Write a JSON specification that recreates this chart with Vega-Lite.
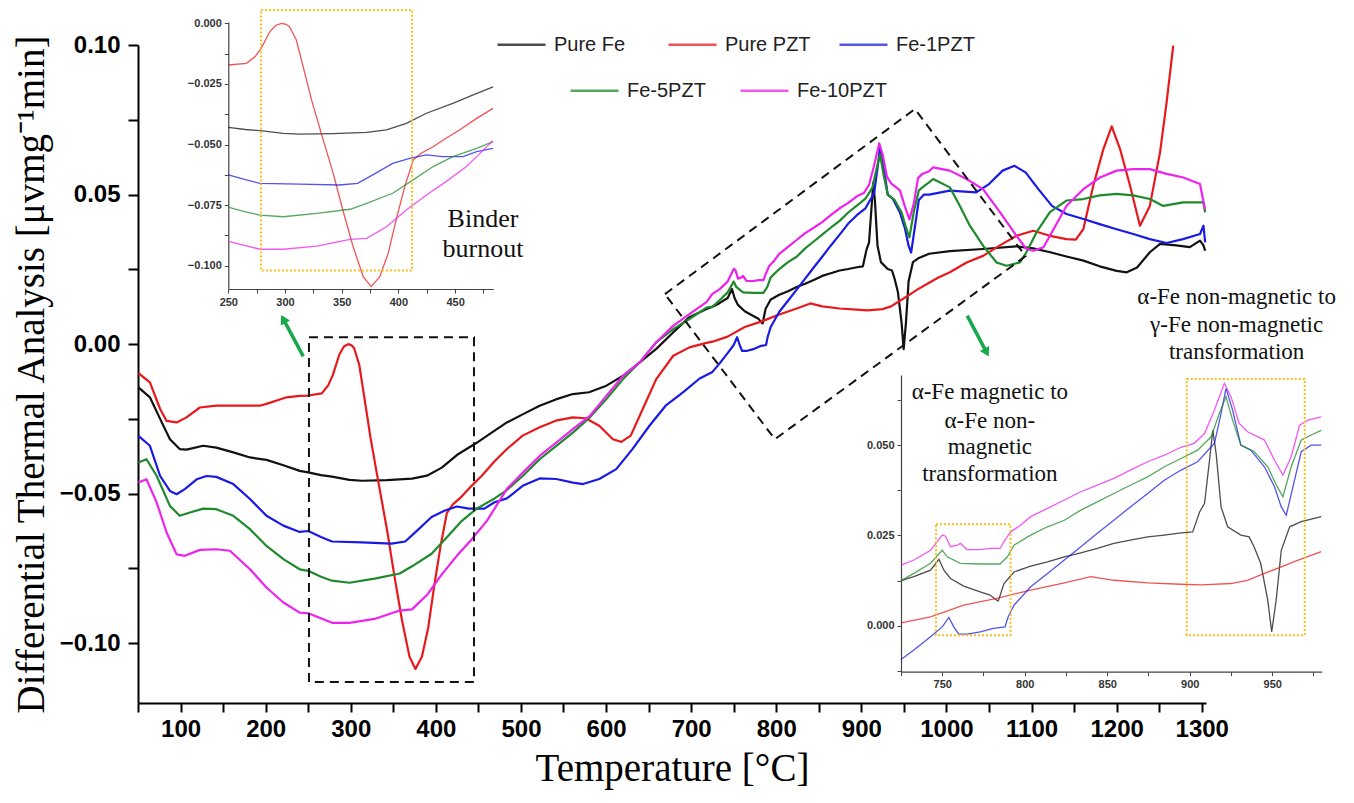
{
"$schema":"https://vega.github.io/schema/vega-lite/v6.json",
"width":1068,"height":658,
"autosize":"none",
"padding":{"left":138,"top":45,"right":148,"bottom":100},
"background":"white",
"config":{"view":{"stroke":null},"axis":{"grid":false,"domainColor":"#000","tickColor":"#000","labelColor":"#000","labelFont":"Liberation Sans","labelFlush":false,"labelOverlap":false},"font":"Liberation Sans"},
"datasets":{
"d":[
{"s":"Pure Fe","t":50.5,"v":-0.0145},{"s":"Pure Fe","t":64,"v":-0.0178},{"s":"Pure Fe","t":76,"v":-0.025},{"s":"Pure Fe","t":87.5,"v":-0.0318},{"s":"Pure Fe","t":99,"v":-0.0351},{"s":"Pure Fe","t":107,"v":-0.0353},{"s":"Pure Fe","t":126.6,"v":-0.034},{"s":"Pure Fe","t":142,"v":-0.0346},{"s":"Pure Fe","t":162,"v":-0.0362},{"s":"Pure Fe","t":181.6,"v":-0.0379},{"s":"Pure Fe","t":201,"v":-0.0387},{"s":"Pure Fe","t":220.8,"v":-0.0405},{"s":"Pure Fe","t":240,"v":-0.0424},{"s":"Pure Fe","t":250,"v":-0.0429},{"s":"Pure Fe","t":265,"v":-0.0438},{"s":"Pure Fe","t":278,"v":-0.0443},{"s":"Pure Fe","t":298.5,"v":-0.0454},{"s":"Pure Fe","t":313,"v":-0.0457},{"s":"Pure Fe","t":342.5,"v":-0.0455},{"s":"Pure Fe","t":372,"v":-0.045},{"s":"Pure Fe","t":389.5,"v":-0.044},{"s":"Pure Fe","t":407,"v":-0.0413},{"s":"Pure Fe","t":424.7,"v":-0.0371},{"s":"Pure Fe","t":448,"v":-0.033},{"s":"Pure Fe","t":466,"v":-0.0295},{"s":"Pure Fe","t":483.5,"v":-0.0262},{"s":"Pure Fe","t":502,"v":-0.0235},{"s":"Pure Fe","t":522,"v":-0.0206},{"s":"Pure Fe","t":541,"v":-0.0185},{"s":"Pure Fe","t":561,"v":-0.0167},{"s":"Pure Fe","t":580,"v":-0.0161},{"s":"Pure Fe","t":600.4,"v":-0.0139},{"s":"Pure Fe","t":620,"v":-0.0106},{"s":"Pure Fe","t":639.6,"v":-0.0061},{"s":"Pure Fe","t":659,"v":-0.0016},{"s":"Pure Fe","t":678.8,"v":0.0039},{"s":"Pure Fe","t":698,"v":0.009},{"s":"Pure Fe","t":718,"v":0.0117},{"s":"Pure Fe","t":725,"v":0.0125},{"s":"Pure Fe","t":732.8,"v":0.0136},{"s":"Pure Fe","t":742.9,"v":0.0154},{"s":"Pure Fe","t":748,"v":0.0184},{"s":"Pure Fe","t":751,"v":0.0154},{"s":"Pure Fe","t":755,"v":0.0131},{"s":"Pure Fe","t":763,"v":0.011},{"s":"Pure Fe","t":773,"v":0.0094},{"s":"Pure Fe","t":779,"v":0.0085},{"s":"Pure Fe","t":783,"v":0.0071},{"s":"Pure Fe","t":784,"v":0.0069},{"s":"Pure Fe","t":787.4,"v":0.0117},{"s":"Pure Fe","t":793.5,"v":0.0149},{"s":"Pure Fe","t":803.6,"v":0.0165},{"s":"Pure Fe","t":813.8,"v":0.0177},{"s":"Pure Fe","t":824,"v":0.0191},{"s":"Pure Fe","t":834,"v":0.0202},{"s":"Pure Fe","t":844,"v":0.0214},{"s":"Pure Fe","t":854,"v":0.0228},{"s":"Pure Fe","t":864,"v":0.0237},{"s":"Pure Fe","t":874.5,"v":0.0246},{"s":"Pure Fe","t":884.6,"v":0.0251},{"s":"Pure Fe","t":894.7,"v":0.0257},{"s":"Pure Fe","t":901.8,"v":0.026},{"s":"Pure Fe","t":906,"v":0.0315},{"s":"Pure Fe","t":909,"v":0.0339},{"s":"Pure Fe","t":912,"v":0.0458},{"s":"Pure Fe","t":914,"v":0.0541},{"s":"Pure Fe","t":916,"v":0.0477},{"s":"Pure Fe","t":919,"v":0.0329},{"s":"Pure Fe","t":923,"v":0.0274},{"s":"Pure Fe","t":931,"v":0.0251},{"s":"Pure Fe","t":936,"v":0.0246},{"s":"Pure Fe","t":939,"v":0.0219},{"s":"Pure Fe","t":943,"v":0.0173},{"s":"Pure Fe","t":947.3,"v":0.0071},{"s":"Pure Fe","t":949.7,"v":-0.0017},{"s":"Pure Fe","t":952.4,"v":0.0071},{"s":"Pure Fe","t":955.5,"v":0.0209},{"s":"Pure Fe","t":960.6,"v":0.0274},{"s":"Pure Fe","t":967.6,"v":0.0288},{"s":"Pure Fe","t":979.7,"v":0.0302},{"s":"Pure Fe","t":1004,"v":0.0311},{"s":"Pure Fe","t":1043,"v":0.0318},{"s":"Pure Fe","t":1082,"v":0.0327},{"s":"Pure Fe","t":1102,"v":0.032},{"s":"Pure Fe","t":1122,"v":0.0307},{"s":"Pure Fe","t":1141,"v":0.0293},{"s":"Pure Fe","t":1161,"v":0.0279},{"s":"Pure Fe","t":1180,"v":0.026},{"s":"Pure Fe","t":1200,"v":0.0245},{"s":"Pure Fe","t":1212,"v":0.024},{"s":"Pure Fe","t":1224,"v":0.0256},{"s":"Pure Fe","t":1239,"v":0.0307},{"s":"Pure Fe","t":1251,"v":0.0335},{"s":"Pure Fe","t":1270,"v":0.033},{"s":"Pure Fe","t":1286,"v":0.0324},{"s":"Pure Fe","t":1298,"v":0.0346},{"s":"Pure Fe","t":1302,"v":0.033},{"s":"Pure Fe","t":1304,"v":0.0312},
{"s":"Pure PZT","t":50.5,"v":-0.0097},{"s":"Pure PZT","t":64,"v":-0.0128},{"s":"Pure PZT","t":76,"v":-0.0217},{"s":"Pure PZT","t":83.6,"v":-0.0257},{"s":"Pure PZT","t":95.4,"v":-0.0262},{"s":"Pure PZT","t":107,"v":-0.0245},{"s":"Pure PZT","t":122.7,"v":-0.0212},{"s":"Pure PZT","t":142,"v":-0.0206},{"s":"Pure PZT","t":162,"v":-0.0206},{"s":"Pure PZT","t":193,"v":-0.0206},{"s":"Pure PZT","t":201,"v":-0.02},{"s":"Pure PZT","t":224.7,"v":-0.0178},{"s":"Pure PZT","t":240,"v":-0.0173},{"s":"Pure PZT","t":250,"v":-0.0172},{"s":"Pure PZT","t":266,"v":-0.0165},{"s":"Pure PZT","t":273.5,"v":-0.0138},{"s":"Pure PZT","t":279,"v":-0.0103},{"s":"Pure PZT","t":286.7,"v":-0.0034},{"s":"Pure PZT","t":292,"v":-0.0008},{"s":"Pure PZT","t":297,"v":0},{"s":"Pure PZT","t":301,"v":-0.0004},{"s":"Pure PZT","t":304,"v":-0.0014},{"s":"Pure PZT","t":310,"v":-0.0069},{"s":"Pure PZT","t":316,"v":-0.0179},{"s":"Pure PZT","t":323.4,"v":-0.0316},{"s":"Pure PZT","t":332,"v":-0.0454},{"s":"Pure PZT","t":342.5,"v":-0.0619},{"s":"Pure PZT","t":351,"v":-0.077},{"s":"Pure PZT","t":360,"v":-0.092},{"s":"Pure PZT","t":369,"v":-0.1045},{"s":"Pure PZT","t":376,"v":-0.1086},{"s":"Pure PZT","t":383.6,"v":-0.1045},{"s":"Pure PZT","t":391,"v":-0.0949},{"s":"Pure PZT","t":398,"v":-0.0811},{"s":"Pure PZT","t":405.6,"v":-0.0674},{"s":"Pure PZT","t":413,"v":-0.0564},{"s":"Pure PZT","t":420,"v":-0.0536},{"s":"Pure PZT","t":430.6,"v":-0.0509},{"s":"Pure PZT","t":442,"v":-0.0474},{"s":"Pure PZT","t":454,"v":-0.044},{"s":"Pure PZT","t":469,"v":-0.0392},{"s":"Pure PZT","t":483.5,"v":-0.0351},{"s":"Pure PZT","t":502,"v":-0.0306},{"s":"Pure PZT","t":522,"v":-0.0278},{"s":"Pure PZT","t":541,"v":-0.0256},{"s":"Pure PZT","t":561,"v":-0.0245},{"s":"Pure PZT","t":576,"v":-0.0248},{"s":"Pure PZT","t":592,"v":-0.0273},{"s":"Pure PZT","t":608,"v":-0.0318},{"s":"Pure PZT","t":618,"v":-0.0327},{"s":"Pure PZT","t":629,"v":-0.0306},{"s":"Pure PZT","t":643,"v":-0.0218},{"s":"Pure PZT","t":659,"v":-0.0117},{"s":"Pure PZT","t":679,"v":-0.0039},{"s":"Pure PZT","t":698,"v":-0.0011},{"s":"Pure PZT","t":718,"v":0.0004},{"s":"Pure PZT","t":725,"v":0.0008},{"s":"Pure PZT","t":742.9,"v":0.0025},{"s":"Pure PZT","t":763,"v":0.0057},{"s":"Pure PZT","t":783,"v":0.0076},{"s":"Pure PZT","t":803.6,"v":0.0099},{"s":"Pure PZT","t":824,"v":0.0119},{"s":"Pure PZT","t":840,"v":0.0136},{"s":"Pure PZT","t":854,"v":0.0126},{"s":"Pure PZT","t":874.5,"v":0.0119},{"s":"Pure PZT","t":894.7,"v":0.0115},{"s":"Pure PZT","t":907,"v":0.0113},{"s":"Pure PZT","t":925,"v":0.0117},{"s":"Pure PZT","t":935,"v":0.0126},{"s":"Pure PZT","t":945.3,"v":0.0145},{"s":"Pure PZT","t":955.5,"v":0.0163},{"s":"Pure PZT","t":965.7,"v":0.0182},{"s":"Pure PZT","t":979.7,"v":0.0205},{"s":"Pure PZT","t":990,"v":0.0222},{"s":"Pure PZT","t":1004,"v":0.024},{"s":"Pure PZT","t":1023.7,"v":0.0273},{"s":"Pure PZT","t":1043,"v":0.0295},{"s":"Pure PZT","t":1062.8,"v":0.033},{"s":"Pure PZT","t":1082.4,"v":0.0362},{"s":"Pure PZT","t":1102,"v":0.0379},{"s":"Pure PZT","t":1121.6,"v":0.0362},{"s":"Pure PZT","t":1141,"v":0.0351},{"s":"Pure PZT","t":1152,"v":0.0349},{"s":"Pure PZT","t":1160.8,"v":0.0384},{"s":"Pure PZT","t":1172.6,"v":0.053},{"s":"Pure PZT","t":1184.4,"v":0.0652},{"s":"Pure PZT","t":1194.2,"v":0.0728},{"s":"Pure PZT","t":1204,"v":0.0652},{"s":"Pure PZT","t":1215.7,"v":0.053},{"s":"Pure PZT","t":1227.4,"v":0.0396},{"s":"Pure PZT","t":1239,"v":0.0462},{"s":"Pure PZT","t":1251,"v":0.0641},{"s":"Pure PZT","t":1258.7,"v":0.0808},{"s":"Pure PZT","t":1266.5,"v":0.0998},
{"s":"Fe-1PZT","t":50.5,"v":-0.0307},{"s":"Fe-1PZT","t":64,"v":-0.034},{"s":"Fe-1PZT","t":76,"v":-0.0441},{"s":"Fe-1PZT","t":87.5,"v":-0.0491},{"s":"Fe-1PZT","t":95.4,"v":-0.0502},{"s":"Fe-1PZT","t":105,"v":-0.0485},{"s":"Fe-1PZT","t":119,"v":-0.0452},{"s":"Fe-1PZT","t":130.5,"v":-0.0441},{"s":"Fe-1PZT","t":142,"v":-0.0444},{"s":"Fe-1PZT","t":162,"v":-0.0468},{"s":"Fe-1PZT","t":181.6,"v":-0.0518},{"s":"Fe-1PZT","t":201,"v":-0.0574},{"s":"Fe-1PZT","t":220.8,"v":-0.0607},{"s":"Fe-1PZT","t":240,"v":-0.0628},{"s":"Fe-1PZT","t":250,"v":-0.0625},{"s":"Fe-1PZT","t":265,"v":-0.0645},{"s":"Fe-1PZT","t":278,"v":-0.066},{"s":"Fe-1PZT","t":313,"v":-0.0663},{"s":"Fe-1PZT","t":348,"v":-0.0667},{"s":"Fe-1PZT","t":364,"v":-0.066},{"s":"Fe-1PZT","t":377,"v":-0.0626},{"s":"Fe-1PZT","t":395,"v":-0.0578},{"s":"Fe-1PZT","t":410,"v":-0.0557},{"s":"Fe-1PZT","t":424.7,"v":-0.0543},{"s":"Fe-1PZT","t":439,"v":-0.055},{"s":"Fe-1PZT","t":457,"v":-0.055},{"s":"Fe-1PZT","t":469,"v":-0.0529},{"s":"Fe-1PZT","t":483.5,"v":-0.0516},{"s":"Fe-1PZT","t":502,"v":-0.0474},{"s":"Fe-1PZT","t":522,"v":-0.0449},{"s":"Fe-1PZT","t":541.6,"v":-0.0451},{"s":"Fe-1PZT","t":561,"v":-0.0463},{"s":"Fe-1PZT","t":573,"v":-0.0468},{"s":"Fe-1PZT","t":592,"v":-0.0451},{"s":"Fe-1PZT","t":612,"v":-0.0418},{"s":"Fe-1PZT","t":631,"v":-0.0351},{"s":"Fe-1PZT","t":651,"v":-0.0273},{"s":"Fe-1PZT","t":670,"v":-0.0206},{"s":"Fe-1PZT","t":690,"v":-0.0162},{"s":"Fe-1PZT","t":710,"v":-0.0115},{"s":"Fe-1PZT","t":725,"v":-0.0093},{"s":"Fe-1PZT","t":732.8,"v":-0.0067},{"s":"Fe-1PZT","t":742.9,"v":-0.003},{"s":"Fe-1PZT","t":750,"v":-0.0003},{"s":"Fe-1PZT","t":754,"v":0.0023},{"s":"Fe-1PZT","t":757,"v":-0.0003},{"s":"Fe-1PZT","t":760,"v":-0.0023},{"s":"Fe-1PZT","t":765,"v":-0.0023},{"s":"Fe-1PZT","t":773,"v":-0.0017},{"s":"Fe-1PZT","t":781,"v":-0.0007},{"s":"Fe-1PZT","t":788,"v":-0.0003},{"s":"Fe-1PZT","t":790,"v":0.0025},{"s":"Fe-1PZT","t":793.5,"v":0.0057},{"s":"Fe-1PZT","t":803.6,"v":0.0108},{"s":"Fe-1PZT","t":813.8,"v":0.0145},{"s":"Fe-1PZT","t":824,"v":0.0182},{"s":"Fe-1PZT","t":834,"v":0.0219},{"s":"Fe-1PZT","t":844,"v":0.0256},{"s":"Fe-1PZT","t":854,"v":0.0292},{"s":"Fe-1PZT","t":864,"v":0.0329},{"s":"Fe-1PZT","t":874.5,"v":0.0366},{"s":"Fe-1PZT","t":884.6,"v":0.0403},{"s":"Fe-1PZT","t":894.7,"v":0.0431},{"s":"Fe-1PZT","t":904.8,"v":0.0454},{"s":"Fe-1PZT","t":915,"v":0.0505},{"s":"Fe-1PZT","t":919,"v":0.0588},{"s":"Fe-1PZT","t":922,"v":0.0657},{"s":"Fe-1PZT","t":926,"v":0.0597},{"s":"Fe-1PZT","t":931,"v":0.05},{"s":"Fe-1PZT","t":937,"v":0.0486},{"s":"Fe-1PZT","t":945.3,"v":0.044},{"s":"Fe-1PZT","t":951.4,"v":0.0385},{"s":"Fe-1PZT","t":955.5,"v":0.0329},{"s":"Fe-1PZT","t":958.5,"v":0.0306},{"s":"Fe-1PZT","t":962.6,"v":0.0385},{"s":"Fe-1PZT","t":967.6,"v":0.0482},{"s":"Fe-1PZT","t":973.6,"v":0.05},{"s":"Fe-1PZT","t":979.7,"v":0.05},{"s":"Fe-1PZT","t":1004,"v":0.0513},{"s":"Fe-1PZT","t":1035,"v":0.0507},{"s":"Fe-1PZT","t":1050,"v":0.0535},{"s":"Fe-1PZT","t":1066,"v":0.058},{"s":"Fe-1PZT","t":1080,"v":0.0596},{"s":"Fe-1PZT","t":1093,"v":0.0574},{"s":"Fe-1PZT","t":1108,"v":0.0518},{"s":"Fe-1PZT","t":1124,"v":0.0462},{"s":"Fe-1PZT","t":1141,"v":0.0435},{"s":"Fe-1PZT","t":1161,"v":0.0418},{"s":"Fe-1PZT","t":1180,"v":0.0401},{"s":"Fe-1PZT","t":1200,"v":0.0384},{"s":"Fe-1PZT","t":1219.5,"v":0.0368},{"s":"Fe-1PZT","t":1239,"v":0.0351},{"s":"Fe-1PZT","t":1258.7,"v":0.0338},{"s":"Fe-1PZT","t":1278,"v":0.0351},{"s":"Fe-1PZT","t":1298,"v":0.0368},{"s":"Fe-1PZT","t":1302,"v":0.0396},{"s":"Fe-1PZT","t":1304,"v":0.034},
{"s":"Fe-5PZT","t":50.5,"v":-0.0396},{"s":"Fe-5PZT","t":60,"v":-0.0385},{"s":"Fe-5PZT","t":72,"v":-0.0441},{"s":"Fe-5PZT","t":87.5,"v":-0.0541},{"s":"Fe-5PZT","t":99,"v":-0.0574},{"s":"Fe-5PZT","t":111,"v":-0.0563},{"s":"Fe-5PZT","t":126.6,"v":-0.055},{"s":"Fe-5PZT","t":142,"v":-0.0552},{"s":"Fe-5PZT","t":162,"v":-0.0574},{"s":"Fe-5PZT","t":181.6,"v":-0.0619},{"s":"Fe-5PZT","t":201,"v":-0.0675},{"s":"Fe-5PZT","t":220.8,"v":-0.0719},{"s":"Fe-5PZT","t":240,"v":-0.0753},{"s":"Fe-5PZT","t":250,"v":-0.0758},{"s":"Fe-5PZT","t":265,"v":-0.0778},{"s":"Fe-5PZT","t":278,"v":-0.0791},{"s":"Fe-5PZT","t":298.5,"v":-0.0798},{"s":"Fe-5PZT","t":328,"v":-0.0784},{"s":"Fe-5PZT","t":357.5,"v":-0.0767},{"s":"Fe-5PZT","t":372,"v":-0.0743},{"s":"Fe-5PZT","t":395,"v":-0.0701},{"s":"Fe-5PZT","t":413,"v":-0.0646},{"s":"Fe-5PZT","t":430.6,"v":-0.0591},{"s":"Fe-5PZT","t":448,"v":-0.055},{"s":"Fe-5PZT","t":469,"v":-0.0516},{"s":"Fe-5PZT","t":483.5,"v":-0.0488},{"s":"Fe-5PZT","t":502,"v":-0.0441},{"s":"Fe-5PZT","t":522,"v":-0.0385},{"s":"Fe-5PZT","t":541.6,"v":-0.034},{"s":"Fe-5PZT","t":561,"v":-0.0296},{"s":"Fe-5PZT","t":581,"v":-0.0245},{"s":"Fe-5PZT","t":600.4,"v":-0.0184},{"s":"Fe-5PZT","t":620,"v":-0.0117},{"s":"Fe-5PZT","t":639.6,"v":-0.0061},{"s":"Fe-5PZT","t":659,"v":0.0006},{"s":"Fe-5PZT","t":678.8,"v":0.005},{"s":"Fe-5PZT","t":698,"v":0.0084},{"s":"Fe-5PZT","t":718,"v":0.0122},{"s":"Fe-5PZT","t":725,"v":0.0125},{"s":"Fe-5PZT","t":732.8,"v":0.0145},{"s":"Fe-5PZT","t":742.9,"v":0.0173},{"s":"Fe-5PZT","t":750,"v":0.0209},{"s":"Fe-5PZT","t":753,"v":0.0191},{"s":"Fe-5PZT","t":761,"v":0.0173},{"s":"Fe-5PZT","t":773,"v":0.0171},{"s":"Fe-5PZT","t":785,"v":0.0171},{"s":"Fe-5PZT","t":789.5,"v":0.0191},{"s":"Fe-5PZT","t":793.5,"v":0.0223},{"s":"Fe-5PZT","t":803.6,"v":0.0251},{"s":"Fe-5PZT","t":813.8,"v":0.0274},{"s":"Fe-5PZT","t":824,"v":0.0292},{"s":"Fe-5PZT","t":834,"v":0.032},{"s":"Fe-5PZT","t":844,"v":0.0343},{"s":"Fe-5PZT","t":854,"v":0.0366},{"s":"Fe-5PZT","t":864,"v":0.0389},{"s":"Fe-5PZT","t":874.5,"v":0.0412},{"s":"Fe-5PZT","t":884.6,"v":0.044},{"s":"Fe-5PZT","t":894.7,"v":0.0463},{"s":"Fe-5PZT","t":904.8,"v":0.0486},{"s":"Fe-5PZT","t":913,"v":0.0523},{"s":"Fe-5PZT","t":918,"v":0.0588},{"s":"Fe-5PZT","t":922,"v":0.0634},{"s":"Fe-5PZT","t":926,"v":0.0569},{"s":"Fe-5PZT","t":931,"v":0.05},{"s":"Fe-5PZT","t":939,"v":0.0482},{"s":"Fe-5PZT","t":947.3,"v":0.044},{"s":"Fe-5PZT","t":953,"v":0.0385},{"s":"Fe-5PZT","t":956.5,"v":0.0357},{"s":"Fe-5PZT","t":961.5,"v":0.044},{"s":"Fe-5PZT","t":967.6,"v":0.0514},{"s":"Fe-5PZT","t":973.6,"v":0.0528},{"s":"Fe-5PZT","t":979.7,"v":0.0541},{"s":"Fe-5PZT","t":984.3,"v":0.0552},{"s":"Fe-5PZT","t":1004,"v":0.0524},{"s":"Fe-5PZT","t":1015.8,"v":0.0462},{"s":"Fe-5PZT","t":1027.5,"v":0.0396},{"s":"Fe-5PZT","t":1043,"v":0.0329},{"s":"Fe-5PZT","t":1058.9,"v":0.0273},{"s":"Fe-5PZT","t":1070.6,"v":0.0262},{"s":"Fe-5PZT","t":1086.3,"v":0.0273},{"s":"Fe-5PZT","t":1094,"v":0.0307},{"s":"Fe-5PZT","t":1105.9,"v":0.0374},{"s":"Fe-5PZT","t":1121.6,"v":0.0441},{"s":"Fe-5PZT","t":1141,"v":0.048},{"s":"Fe-5PZT","t":1161,"v":0.0485},{"s":"Fe-5PZT","t":1180,"v":0.0497},{"s":"Fe-5PZT","t":1200,"v":0.0502},{"s":"Fe-5PZT","t":1219.5,"v":0.0497},{"s":"Fe-5PZT","t":1239,"v":0.0485},{"s":"Fe-5PZT","t":1254.8,"v":0.0462},{"s":"Fe-5PZT","t":1278,"v":0.0474},{"s":"Fe-5PZT","t":1301.9,"v":0.0474},{"s":"Fe-5PZT","t":1304,"v":0.0441},
{"s":"Fe-10PZT","t":50.5,"v":-0.0463},{"s":"Fe-10PZT","t":60,"v":-0.0452},{"s":"Fe-10PZT","t":72,"v":-0.053},{"s":"Fe-10PZT","t":83.6,"v":-0.063},{"s":"Fe-10PZT","t":95.4,"v":-0.0703},{"s":"Fe-10PZT","t":105,"v":-0.0708},{"s":"Fe-10PZT","t":122.7,"v":-0.0688},{"s":"Fe-10PZT","t":142,"v":-0.0686},{"s":"Fe-10PZT","t":158,"v":-0.0691},{"s":"Fe-10PZT","t":181.6,"v":-0.0753},{"s":"Fe-10PZT","t":201,"v":-0.0814},{"s":"Fe-10PZT","t":220.8,"v":-0.0864},{"s":"Fe-10PZT","t":240,"v":-0.0898},{"s":"Fe-10PZT","t":250,"v":-0.09},{"s":"Fe-10PZT","t":278,"v":-0.0932},{"s":"Fe-10PZT","t":298.5,"v":-0.0932},{"s":"Fe-10PZT","t":328,"v":-0.0919},{"s":"Fe-10PZT","t":357.5,"v":-0.0891},{"s":"Fe-10PZT","t":372,"v":-0.0887},{"s":"Fe-10PZT","t":389.5,"v":-0.0839},{"s":"Fe-10PZT","t":407,"v":-0.077},{"s":"Fe-10PZT","t":424.7,"v":-0.0708},{"s":"Fe-10PZT","t":442,"v":-0.0653},{"s":"Fe-10PZT","t":460,"v":-0.0591},{"s":"Fe-10PZT","t":483.5,"v":-0.0484},{"s":"Fe-10PZT","t":502,"v":-0.043},{"s":"Fe-10PZT","t":522,"v":-0.0374},{"s":"Fe-10PZT","t":541.6,"v":-0.0329},{"s":"Fe-10PZT","t":561,"v":-0.0284},{"s":"Fe-10PZT","t":581,"v":-0.024},{"s":"Fe-10PZT","t":600.4,"v":-0.0173},{"s":"Fe-10PZT","t":620,"v":-0.0106},{"s":"Fe-10PZT","t":639.6,"v":-0.0061},{"s":"Fe-10PZT","t":659,"v":0.0006},{"s":"Fe-10PZT","t":678.8,"v":0.0061},{"s":"Fe-10PZT","t":698,"v":0.01},{"s":"Fe-10PZT","t":718,"v":0.014},{"s":"Fe-10PZT","t":725,"v":0.0168},{"s":"Fe-10PZT","t":732.8,"v":0.0182},{"s":"Fe-10PZT","t":742.9,"v":0.0209},{"s":"Fe-10PZT","t":750,"v":0.0251},{"s":"Fe-10PZT","t":752,"v":0.0248},{"s":"Fe-10PZT","t":755,"v":0.0219},{"s":"Fe-10PZT","t":759,"v":0.0223},{"s":"Fe-10PZT","t":761,"v":0.0228},{"s":"Fe-10PZT","t":765,"v":0.0211},{"s":"Fe-10PZT","t":773,"v":0.0211},{"s":"Fe-10PZT","t":779,"v":0.0214},{"s":"Fe-10PZT","t":785,"v":0.0214},{"s":"Fe-10PZT","t":788,"v":0.0237},{"s":"Fe-10PZT","t":791.5,"v":0.026},{"s":"Fe-10PZT","t":797.6,"v":0.0279},{"s":"Fe-10PZT","t":803.6,"v":0.0302},{"s":"Fe-10PZT","t":813.8,"v":0.0325},{"s":"Fe-10PZT","t":824,"v":0.0348},{"s":"Fe-10PZT","t":834,"v":0.0371},{"s":"Fe-10PZT","t":844,"v":0.0389},{"s":"Fe-10PZT","t":854,"v":0.0408},{"s":"Fe-10PZT","t":864,"v":0.0431},{"s":"Fe-10PZT","t":874.5,"v":0.0454},{"s":"Fe-10PZT","t":884.6,"v":0.0472},{"s":"Fe-10PZT","t":894.7,"v":0.0494},{"s":"Fe-10PZT","t":902.8,"v":0.0505},{"s":"Fe-10PZT","t":909,"v":0.0532},{"s":"Fe-10PZT","t":915,"v":0.0597},{"s":"Fe-10PZT","t":921,"v":0.0671},{"s":"Fe-10PZT","t":925,"v":0.0634},{"s":"Fe-10PZT","t":930,"v":0.056},{"s":"Fe-10PZT","t":935,"v":0.0537},{"s":"Fe-10PZT","t":945.3,"v":0.0514},{"s":"Fe-10PZT","t":951.4,"v":0.0458},{"s":"Fe-10PZT","t":956.5,"v":0.0417},{"s":"Fe-10PZT","t":961.5,"v":0.0468},{"s":"Fe-10PZT","t":966.6,"v":0.0555},{"s":"Fe-10PZT","t":971.6,"v":0.0569},{"s":"Fe-10PZT","t":979.7,"v":0.0578},{"s":"Fe-10PZT","t":984.3,"v":0.0591},{"s":"Fe-10PZT","t":1004,"v":0.058},{"s":"Fe-10PZT","t":1023.6,"v":0.0552},{"s":"Fe-10PZT","t":1043,"v":0.0518},{"s":"Fe-10PZT","t":1062.8,"v":0.0441},{"s":"Fe-10PZT","t":1082.4,"v":0.0362},{"s":"Fe-10PZT","t":1094,"v":0.0318},{"s":"Fe-10PZT","t":1102,"v":0.0312},{"s":"Fe-10PZT","t":1114,"v":0.0324},{"s":"Fe-10PZT","t":1121.6,"v":0.0362},{"s":"Fe-10PZT","t":1141,"v":0.0462},{"s":"Fe-10PZT","t":1160.8,"v":0.0518},{"s":"Fe-10PZT","t":1180.4,"v":0.0557},{"s":"Fe-10PZT","t":1200,"v":0.058},{"s":"Fe-10PZT","t":1219.5,"v":0.0585},{"s":"Fe-10PZT","t":1239,"v":0.0585},{"s":"Fe-10PZT","t":1258.7,"v":0.0569},{"s":"Fe-10PZT","t":1278.3,"v":0.0557},{"s":"Fe-10PZT","t":1297.9,"v":0.0535},{"s":"Fe-10PZT","t":1303.8,"v":0.0451}
],
"box":[{"t":250.9,"v":0.0023,"t2":444.8,"v2":-0.113}],
"diamond":[{"i":0,"t":669.2,"v":0.0167},{"i":1,"t":962.9,"v":0.0786},{"i":2,"t":1093,"v":0.0294},{"i":3,"t":798.4,"v":-0.0318},{"i":4,"t":669.2,"v":0.0167}],
"arrows":[{"a":"left","t":244.2,"v":-0.0041,"t2":223,"v2":0.0072},{"a":"right","t":1024.4,"v":0.0095,"t2":1045,"v2":-0.0016}],
"heads":[{"a":"left","t":220.7,"v":0.0084},{"a":"right","t":1047.2,"v":-0.0028}],
"notes":[{"g":"b","t":455.4,"v":0.0418,"txt":"Binder"},{"g":"b","t":455.4,"v":0.0318,"txt":"burnout"},{"g":"m","t":1051,"v":-0.0161,"txt":"α-Fe magnetic to"},{"g":"m","t":1051,"v":-0.0257,"txt":"α-Fe non-"},{"g":"m","t":1051,"v":-0.0344,"txt":"magnetic"},{"g":"m","t":1051,"v":-0.0435,"txt":"transformation"},{"g":"n","t":1341,"v":0.0157,"txt":"α-Fe non-magnetic to"},{"g":"n","t":1341,"v":0.0065,"txt":"γ-Fe non-magnetic"},{"g":"n","t":1341,"v":-0.0028,"txt":"transformation"}],
"yb1":[{"t":278.8,"v":0.0055,"t2":412.1,"v2":-0.102}],
"yb2":[{"t":746.2,"v":0.0281,"t2":791.4,"v2":-0.0026},{"t":898.2,"v":0.0683,"t2":969.7,"v2":-0.0026}]
},
"layer":[
{
"encoding":{
"x":{"field":"t","type":"quantitative","title":"Temperature [°C]","scale":{"domain":[50,1305],"nice":false,"zero":false},"axis":{"orient":"bottom","values":[50,100,150,200,250,300,350,400,450,500,550,600,650,700,750,800,850,900,950,1000,1050,1100,1150,1200,1250,1300],"format":"d","labelExpr":"datum.value % 100 == 0 ? datum.label : ''","labelFontSize":24,"labelFontWeight":"bold","tickSize":9,"tickWidth":2,"domainWidth":2,"labelPadding":5,"titleFont":"Liberation Serif","titleFontSize":39,"titleFontWeight":"normal","titlePadding":8,"titleColor":"#000"}},
"y":{"field":"v","type":"quantitative","title":"Differential Thermal Analysis [μvmg⁻¹min]","scale":{"domain":[-0.12,0.1],"nice":false,"zero":false},"axis":{"orient":"left","values":[-0.1,-0.075,-0.05,-0.025,0,0.025,0.05,0.075,0.1],"format":".2f","labelExpr":"round(datum.value*1000) % 50 == 0 ? datum.label : ''","labelFontSize":24,"labelFontWeight":"bold","tickSize":10,"tickWidth":2,"domainWidth":2,"labelPadding":8,"titleFont":"Liberation Serif","titleFontSize":39,"titleFontWeight":"normal","titlePadding":8,"titleColor":"#000"}}
},
"layer":[
{"data":{"name":"d"},"transform":[{"filter":{"field":"s","oneOf":["Pure Fe","Pure PZT","Fe-1PZT"]}}],"mark":{"type":"line","strokeWidth":2.2,"strokeJoin":"round"},
"encoding":{"color":{"field":"s","type":"nominal","scale":{"domain":["Pure Fe","Pure PZT","Fe-1PZT"],"range":["#111111","#e8191c","#1a1ae6"]},"legend":{"orient":"none","legendX":358,"legendY":-26,"direction":"horizontal","title":null,"symbolType":"stroke","symbolSize":2304,"symbolStrokeWidth":2.5,"labelFontSize":20,"labelFont":"Liberation Sans","labelColor":"#222","gridAlign":"all","columnPadding":23,"labelOffset":7}}}},
{"data":{"name":"d"},"transform":[{"filter":{"field":"s","oneOf":["Fe-5PZT","Fe-10PZT"]}}],"mark":{"type":"line","strokeWidth":2.2,"strokeJoin":"round"},
"encoding":{"stroke":{"field":"s","type":"nominal","scale":{"domain":["Fe-5PZT","Fe-10PZT"],"range":["#1f8a2b","#ee22ee"]},"legend":{"orient":"none","legendX":431,"legendY":20,"direction":"horizontal","title":null,"symbolType":"stroke","symbolSize":2304,"symbolStrokeWidth":2.5,"labelFontSize":20,"labelFont":"Liberation Sans","labelColor":"#222","gridAlign":"all","columnPadding":17,"labelOffset":7}}}},
{"data":{"name":"box"},"mark":{"type":"rect","fillOpacity":0,"stroke":"#111","strokeWidth":2,"strokeDash":[9,6]},"encoding":{"x2":{"field":"t2"},"y2":{"field":"v2"}}},
{"data":{"name":"diamond"},"mark":{"type":"line","color":"#111","strokeWidth":2,"strokeDash":[9,6]},"encoding":{"order":{"field":"i","type":"quantitative"}}},
{"data":{"name":"arrows"},"mark":{"type":"rule","color":"#17a84a","strokeWidth":3.5},"encoding":{"x2":{"field":"t2"},"y2":{"field":"v2"}}},
{"data":{"name":"heads"},"transform":[{"filter":"datum.a == 'left'"}],"mark":{"type":"point","shape":"triangle-up","filled":true,"color":"#17a84a","size":110,"angle":331.6,"opacity":1},"encoding":{}},
{"data":{"name":"heads"},"transform":[{"filter":"datum.a == 'right'"}],"mark":{"type":"point","shape":"triangle-up","filled":true,"color":"#17a84a","size":110,"angle":152,"opacity":1},"encoding":{}},
{"data":{"name":"notes"},"transform":[{"filter":"datum.g == 'b'"}],"mark":{"type":"text","font":"Liberation Serif","fontSize":26,"align":"center","baseline":"middle","color":"#111"},"encoding":{"text":{"field":"txt"}}},
{"data":{"name":"notes"},"transform":[{"filter":"datum.g != 'b'"}],"mark":{"type":"text","font":"Liberation Serif","fontSize":23,"align":"center","baseline":"middle","color":"#111"},"encoding":{"text":{"field":"txt"}}}
]
},
{
"encoding":{
"x":{"field":"t","type":"quantitative","title":null,"scale":{"domain":[250,483.7],"range":[90.3,355.3],"nice":false,"zero":false},"axis":{"orient":"bottom","offset":-414,"values":[250,275,300,325,350,375,400,425,450,475],"format":"d","labelExpr":"datum.value % 50 == 0 ? datum.label : ''","labelFontSize":11,"labelFontWeight":"bold","labelColor":"#333","tickSize":4,"domainWidth":1.2,"domainColor":"#444","tickColor":"#444","labelPadding":3}},
"y":{"field":"v","type":"quantitative","title":null,"scale":{"domain":[-0.1096,0.0005],"range":[244,-22.9],"nice":false,"zero":false},"axis":{"orient":"left","offset":-90.3,"values":[-0.1,-0.0875,-0.075,-0.0625,-0.05,-0.0375,-0.025,-0.0125,0],"format":".3f","labelExpr":"round(datum.value*10000) % 250 == 0 ? datum.label : ''","labelFontSize":11,"labelFontWeight":"bold","labelColor":"#333","tickSize":4,"domainWidth":1.2,"domainColor":"#444","tickColor":"#444","labelPadding":3}}
},
"layer":[
{"data":{"name":"d"},"transform":[{"filter":{"field":"s","oneOf":["Pure Fe","Pure PZT","Fe-1PZT"]}},{"filter":{"field":"t","range":[250,483.7]}}],"mark":{"type":"line","strokeWidth":1.3,"opacity":0.75},
"encoding":{"color":{"field":"s","type":"nominal","scale":{"domain":["Pure Fe","Pure PZT","Fe-1PZT"],"range":["#111111","#e8191c","#1a1ae6"]},"legend":{"orient":"none","legendX":358,"legendY":-26,"direction":"horizontal","title":null,"symbolType":"stroke","symbolSize":2304,"symbolStrokeWidth":2.5,"labelFontSize":20,"labelFont":"Liberation Sans","labelColor":"#222","gridAlign":"all","columnPadding":23,"labelOffset":7}}}},
{"data":{"name":"d"},"transform":[{"filter":{"field":"s","oneOf":["Fe-5PZT","Fe-10PZT"]}},{"filter":{"field":"t","range":[250,483.7]}}],"mark":{"type":"line","strokeWidth":1.3,"opacity":0.75},
"encoding":{"stroke":{"field":"s","type":"nominal","scale":{"domain":["Fe-5PZT","Fe-10PZT"],"range":["#1f8a2b","#ee22ee"]},"legend":{"orient":"none","legendX":431,"legendY":20,"direction":"horizontal","title":null,"symbolType":"stroke","symbolSize":2304,"symbolStrokeWidth":2.5,"labelFontSize":20,"labelFont":"Liberation Sans","labelColor":"#222","gridAlign":"all","columnPadding":17,"labelOffset":7}}}},
{"data":{"name":"yb1"},"mark":{"type":"rect","fillOpacity":0,"stroke":"#f5c11b","strokeWidth":2,"strokeDash":[2,2]},"encoding":{"x2":{"field":"t2"},"y2":{"field":"v2"}}}
]
},
{
"encoding":{
"x":{"field":"t","type":"quantitative","title":null,"scale":{"domain":[725,980],"range":[763,1183.7],"nice":false,"zero":false},"axis":{"orient":"bottom","offset":-31.3,"values":[725,750,775,800,825,850,875,900,925,950,975],"format":"d","labelExpr":"datum.value % 50 == 0 ? datum.label : ''","labelFontSize":11,"labelFontWeight":"bold","labelColor":"#333","tickSize":4,"domainWidth":1.2,"domainColor":"#444","tickColor":"#444","labelPadding":3}},
"y":{"field":"v","type":"quantitative","title":null,"scale":{"domain":[-0.0127,0.0694],"range":[626.7,330],"nice":false,"zero":false},"axis":{"orient":"left","offset":-763,"values":[-0.0125,0,0.0125,0.025,0.0375,0.05,0.0625],"format":".3f","labelExpr":"round(datum.value*10000) % 250 == 0 ? datum.label : ''","labelFontSize":11,"labelFontWeight":"bold","labelColor":"#333","tickSize":4,"domainWidth":1.2,"domainColor":"#444","tickColor":"#444","labelPadding":3}}
},
"layer":[
{"data":{"name":"d"},"transform":[{"filter":{"field":"s","oneOf":["Pure Fe","Pure PZT","Fe-1PZT"]}},{"filter":{"field":"t","range":[725,980]}}],"mark":{"type":"line","strokeWidth":1.3,"opacity":0.75},
"encoding":{"color":{"field":"s","type":"nominal","scale":{"domain":["Pure Fe","Pure PZT","Fe-1PZT"],"range":["#111111","#e8191c","#1a1ae6"]},"legend":{"orient":"none","legendX":358,"legendY":-26,"direction":"horizontal","title":null,"symbolType":"stroke","symbolSize":2304,"symbolStrokeWidth":2.5,"labelFontSize":20,"labelFont":"Liberation Sans","labelColor":"#222","gridAlign":"all","columnPadding":23,"labelOffset":7}}}},
{"data":{"name":"d"},"transform":[{"filter":{"field":"s","oneOf":["Fe-5PZT","Fe-10PZT"]}},{"filter":{"field":"t","range":[725,980]}}],"mark":{"type":"line","strokeWidth":1.3,"opacity":0.75},
"encoding":{"stroke":{"field":"s","type":"nominal","scale":{"domain":["Fe-5PZT","Fe-10PZT"],"range":["#1f8a2b","#ee22ee"]},"legend":{"orient":"none","legendX":431,"legendY":20,"direction":"horizontal","title":null,"symbolType":"stroke","symbolSize":2304,"symbolStrokeWidth":2.5,"labelFontSize":20,"labelFont":"Liberation Sans","labelColor":"#222","gridAlign":"all","columnPadding":17,"labelOffset":7}}}},
{"data":{"name":"yb2"},"mark":{"type":"rect","fillOpacity":0,"stroke":"#f5c11b","strokeWidth":2,"strokeDash":[2,2]},"encoding":{"x2":{"field":"t2"},"y2":{"field":"v2"}}}
]
}
],
"resolve":{"scale":{"x":"independent","y":"independent"},"axis":{"x":"independent","y":"independent"}}
}
